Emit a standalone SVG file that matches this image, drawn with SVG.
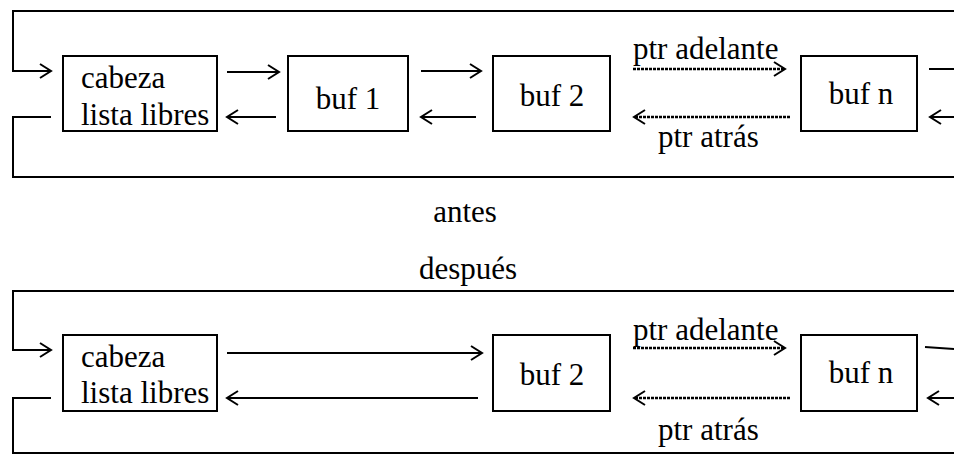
<svg xmlns="http://www.w3.org/2000/svg" width="954" height="455" viewBox="0 0 954 455">
<style>
.box{fill:#fff;stroke:#000;stroke-width:2}
.ln{fill:none;stroke:#000;stroke-width:2}
.dot{fill:none;stroke:#000;stroke-width:2.5;stroke-dasharray:3 1}
.t{font-family:'Liberation Serif','DejaVu Serif',serif;font-size:31px;fill:#000}
</style>
<defs>
<marker id="ah" markerWidth="14" markerHeight="16" refX="12" refY="8" orient="auto" markerUnits="userSpaceOnUse">
<polyline points="1,1 12,8 1,15" fill="none" stroke="#000" stroke-width="2"/>
</marker>
</defs>
<g id="connectors">
<polyline class="ln" points="954,11 13,11 13,71 51,71" marker-end="url(#ah)"/>
<polyline class="ln" points="51,117 13,117 13,177 954,177"/>
<line class="ln" x1="227" y1="72" x2="279" y2="72" marker-end="url(#ah)"/>
<line class="ln" x1="276" y1="117" x2="227" y2="117" marker-end="url(#ah)"/>
<line class="ln" x1="421" y1="71" x2="481" y2="71" marker-end="url(#ah)"/>
<line class="ln" x1="476" y1="117" x2="421" y2="117" marker-end="url(#ah)"/>
<line class="dot" x1="633" y1="69" x2="785" y2="69" marker-end="url(#ah)"/>
<line class="dot" x1="790" y1="117" x2="634" y2="117" marker-end="url(#ah)"/>
<line class="ln" x1="929" y1="69" x2="954" y2="69"/>
<line class="ln" x1="954" y1="117" x2="930" y2="117" marker-end="url(#ah)"/>
<polyline class="ln" points="954,291 13,291 13,350 51,350" marker-end="url(#ah)"/>
<polyline class="ln" points="51,398 13,398 13,453 954,453"/>
<line class="ln" x1="227" y1="353" x2="482" y2="353" marker-end="url(#ah)"/>
<line class="ln" x1="478" y1="398" x2="227" y2="398" marker-end="url(#ah)"/>
<line class="dot" x1="633" y1="348" x2="785" y2="348" marker-end="url(#ah)"/>
<line class="dot" x1="790" y1="398" x2="634" y2="398" marker-end="url(#ah)"/>
<line class="ln" x1="925" y1="347" x2="954" y2="349"/>
<line class="ln" x1="954" y1="398" x2="928" y2="398" marker-end="url(#ah)"/>
</g>
<g id="cabeza1"><rect class="box" x="63" y="56" width="154" height="75"/><text class="t" x="81" y="88">cabeza</text><text class="t" x="81" y="125">lista libres</text></g>
<g id="buf1"><rect class="box" x="288" y="56" width="120" height="75"/><text class="t" x="348" y="109" text-anchor="middle">buf 1</text></g>
<g id="buf2a"><rect class="box" x="493" y="56" width="117" height="75"/><text class="t" x="552" y="106" text-anchor="middle">buf 2</text></g>
<g id="bufna"><rect class="box" x="801" y="56" width="116" height="75"/><text class="t" x="861" y="104" text-anchor="middle">buf n</text></g>
<text class="t" x="633" y="59">ptr adelante</text>
<text class="t" x="658" y="147">ptr atrás</text>
<text class="t" x="465" y="222" text-anchor="middle">antes</text>
<text class="t" x="468" y="279" text-anchor="middle">después</text>
<g id="cabeza2"><rect class="box" x="63" y="335" width="154" height="76"/><text class="t" x="81" y="367">cabeza</text><text class="t" x="81" y="403">lista libres</text></g>
<g id="buf2b"><rect class="box" x="493" y="335" width="117" height="76"/><text class="t" x="552" y="385" text-anchor="middle">buf 2</text></g>
<g id="bufnb"><rect class="box" x="801" y="335" width="116" height="76"/><text class="t" x="861" y="383" text-anchor="middle">buf n</text></g>
<text class="t" x="633" y="340">ptr adelante</text>
<text class="t" x="658" y="440">ptr atrás</text>
</svg>
